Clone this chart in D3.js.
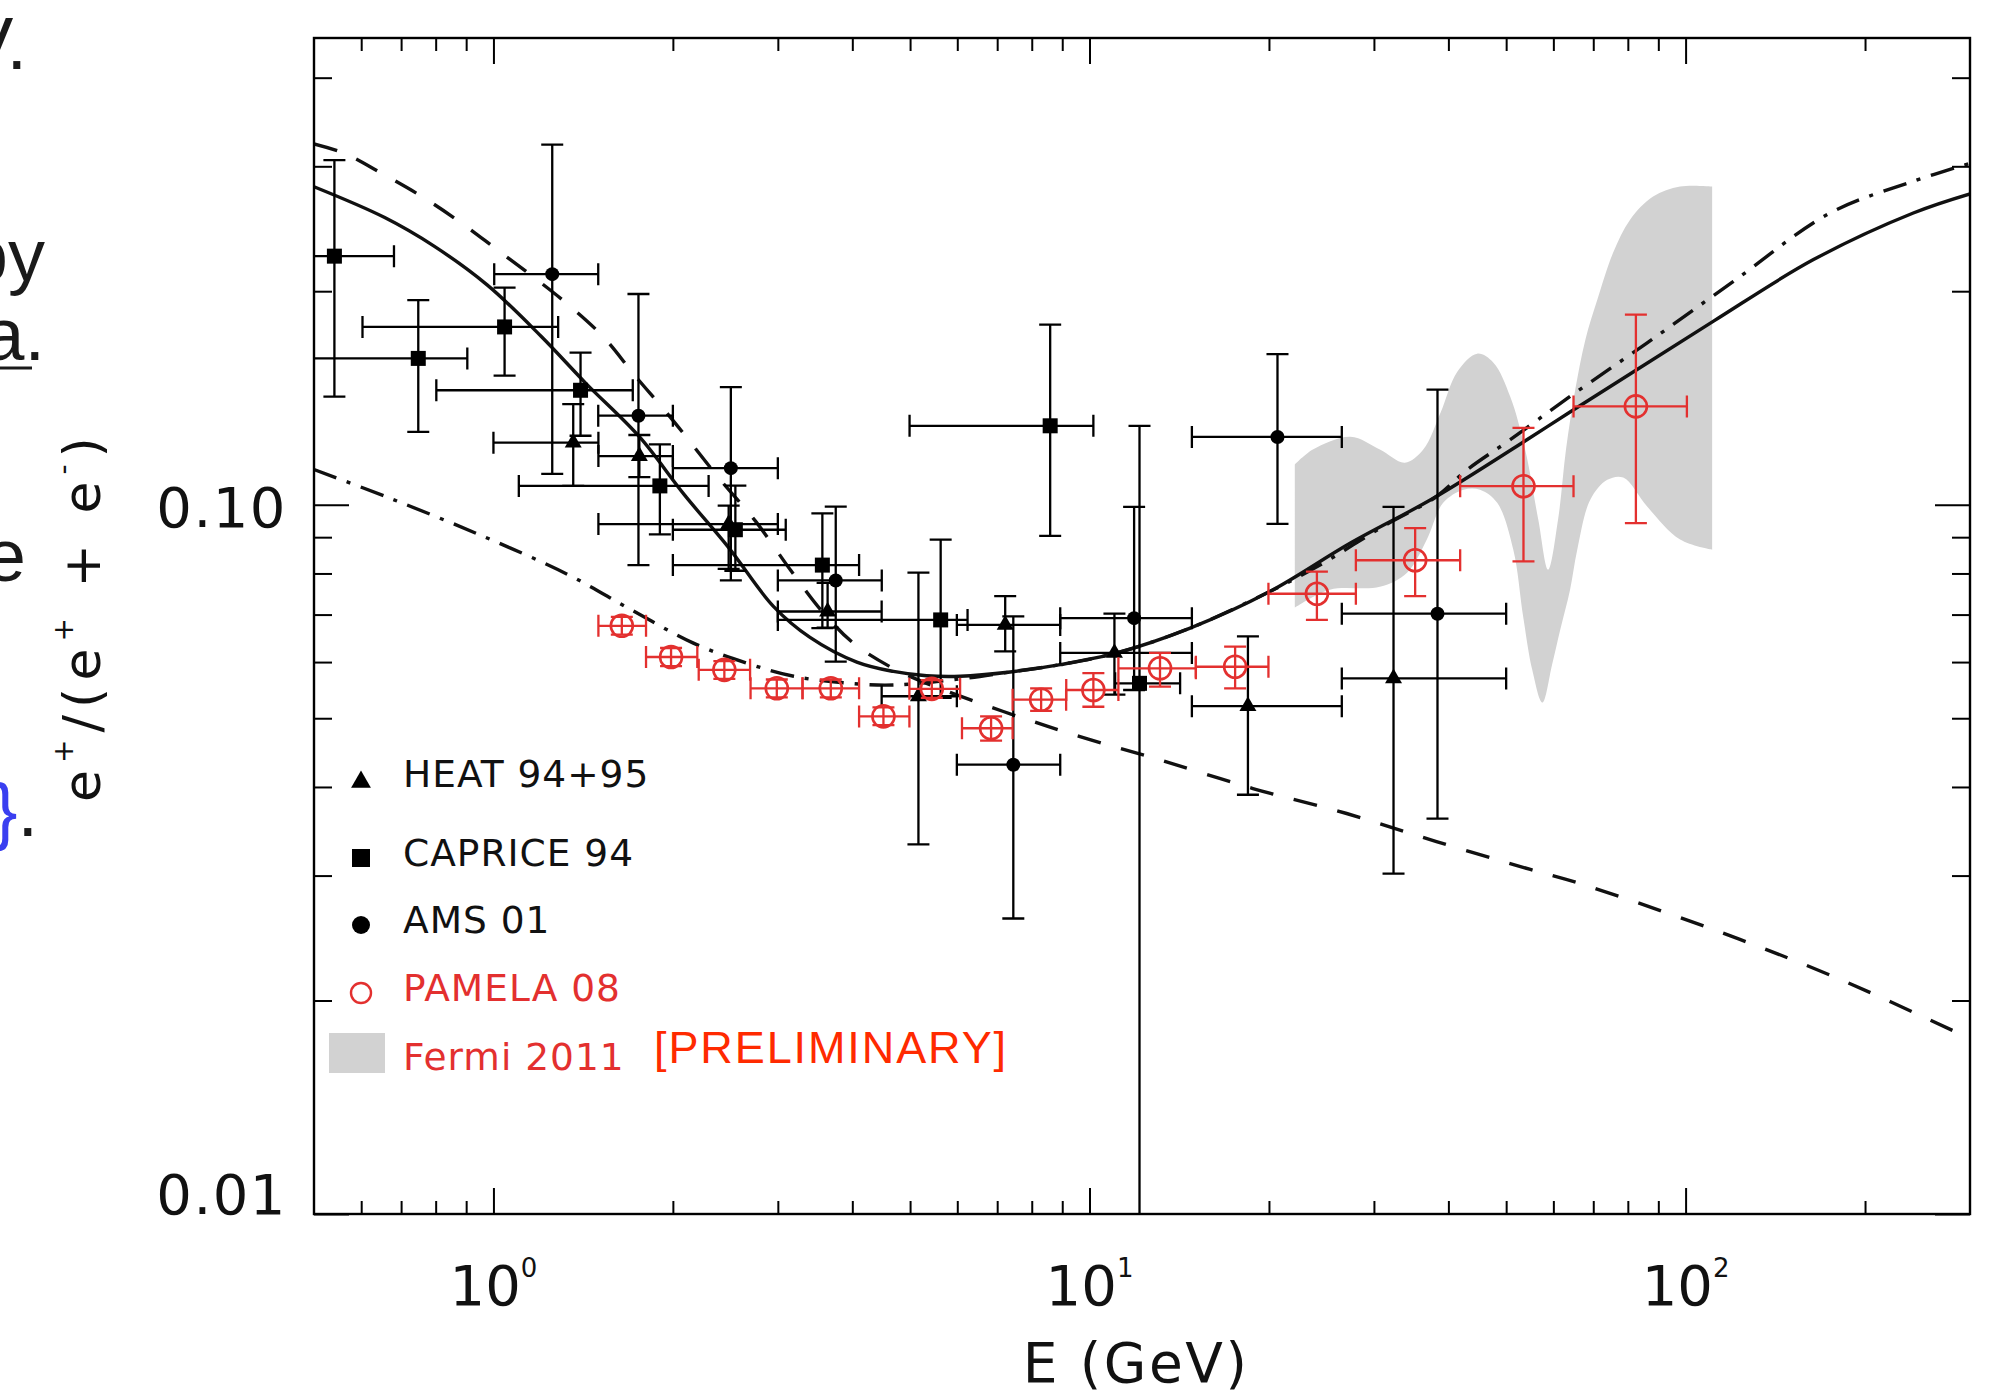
<!DOCTYPE html>
<html>
<head>
<meta charset="utf-8">
<script src="https://cdn.jsdelivr.net/npm/d3@7"></script>
<style>
  html, body { margin: 0; padding: 0; background: #fff; }
  svg { display: block; }
</style>
</head>
<body>
<svg id="chart" width="2006" height="1394"></svg>
<script>
// ---------------------------------------------------------------
// Values (E in GeV, ratio e+/(e+ + e-))
// ---------------------------------------------------------------

// HEAT 94+95 (filled triangles)
var heatE   = [1.361, 1.757, 2.481, 3.636, 5.164, 7.22, 11.01, 18.44, 32.36];
var heatR   = [0.1223, 0.1171, 0.0939, 0.0707, 0.0537, 0.0677, 0.0618, 0.0520, 0.0569];
var heatElo = [1.0, 1.5, 1.5, 3.0, 4.48, 5.99, 8.93, 14.85, 26.5];
var heatEhi = [1.5, 2.0, 3.0, 4.48, 5.99, 8.93, 14.85, 26.5, 50.0];
var heatRlo = [0.1063, 0.1094, 0.0812, 0.0671, 0.0332, 0.0621, 0.0540, 0.0390, 0.0302];
var heatRhi = [0.1386, 0.1254, 0.0997, 0.0776, 0.0802, 0.0743, 0.0702, 0.0652, 0.0993];

// CAPRICE 94 (filled squares)
var capriceE   = [0.541, 0.748, 1.044, 1.40, 1.902, 2.546, 3.563, 5.627, 8.59, 12.13];
var capriceR   = [0.2241, 0.1608, 0.1781, 0.1450, 0.1063, 0.0922, 0.0822, 0.0688, 0.1292, 0.0560];
var capriceElo = [0.45, 0.45, 0.603, 0.802, 1.103, 2.0, 2.0, 3.0, 4.99, 11.04];
var capriceEhi = [0.681, 0.904, 1.284, 1.713, 2.296, 3.093, 4.106, 6.243, 10.15, 14.19];
var capriceRlo = [0.1420, 0.1267, 0.1521, 0.1251, 0.0908, 0.0807, 0.0670, 0.0534, 0.0904, 0.005];
var capriceRhi = [0.3061, 0.1943, 0.2024, 0.1638, 0.1216, 0.1064, 0.0972, 0.0893, 0.1794, 0.1292];

// AMS 01 (filled circles)
var amsE   = [1.255, 1.751, 2.502, 3.752, 7.45, 11.88, 20.67, 38.35];
var amsR   = [0.2114, 0.1335, 0.1126, 0.0782, 0.0430, 0.0692, 0.1246, 0.0702];
var amsElo = [1.003, 1.499, 2.0, 3.0, 5.99, 8.93, 14.85, 26.5];
var amsEhi = [1.499, 2.0, 3.0, 4.482, 8.93, 14.85, 26.5, 50.0];
var amsRlo = [0.1105, 0.0822, 0.0782, 0.0601, 0.0261, 0.0548, 0.0940, 0.0361];
var amsRhi = [0.3218, 0.1982, 0.1465, 0.0994, 0.0696, 0.0993, 0.1631, 0.1453];

// PAMELA 08 (open red circles)
var pamelaE   = [1.642, 1.986, 2.44, 2.988, 3.681, 4.511, 5.438, 6.837, 8.295, 10.15, 13.13, 17.55, 24.07, 35.18, 53.46, 82.53];
var pamelaR   = [0.0675, 0.0610, 0.0585, 0.0551, 0.0551, 0.0503, 0.0550, 0.0484, 0.0531, 0.0548, 0.0588, 0.0591, 0.0749, 0.0835, 0.1062, 0.1376];
var pamelaElo = [1.5, 1.803, 2.21, 2.70, 3.30, 4.106, 4.987, 6.11, 7.43, 9.14, 11.18, 15.08, 19.96, 27.98, 41.86, 64.86];
var pamelaEhi = [1.803, 2.198, 2.695, 3.30, 4.106, 4.987, 6.066, 7.43, 9.136, 11.18, 15.08, 19.96, 27.98, 41.86, 64.86, 100.5];
var pamelaRlo = [0.0656, 0.0592, 0.0568, 0.0535, 0.0535, 0.0489, 0.0534, 0.0465, 0.0512, 0.0519, 0.0554, 0.0551, 0.0688, 0.0743, 0.0832, 0.0942];
var pamelaRhi = [0.0695, 0.0628, 0.0602, 0.0567, 0.0567, 0.0518, 0.0566, 0.0503, 0.0551, 0.0579, 0.0618, 0.0631, 0.0805, 0.0927, 0.1283, 0.1853];

// Fermi 2011 band (preliminary), upper and lower edges
var fermiUpperE = [22.1, 23.7, 27.4, 30.7, 33.8, 36.3, 38.8, 41.4, 44.7, 47.6, 50.8, 53.8, 56.6, 58.8, 61.1, 63.0, 65.3, 67.9, 71.1, 75.6, 80.7, 88.2, 97.9, 110.8];
var fermiUpperR = [0.1139, 0.1196, 0.1247, 0.1196, 0.1146, 0.1196, 0.1348, 0.1540, 0.1633, 0.1586, 0.1420, 0.1196, 0.0953, 0.0810, 0.0953, 0.1196, 0.1453, 0.1709, 0.1945, 0.2267, 0.2523, 0.2719, 0.2809, 0.2809];
var fermiLowerE = [22.1, 25.3, 30.7, 34.1, 36.8, 39.2, 42.4, 45.2, 48.3, 51.4, 53.4, 55.3, 57.5, 59.7, 61.6, 64.0, 65.8, 69.2, 73.9, 78.6, 86.2, 97.9, 110.8];
var fermiLowerR = [0.0716, 0.0759, 0.0766, 0.0802, 0.0893, 0.1006, 0.1050, 0.1050, 0.1006, 0.0864, 0.0695, 0.0585, 0.0526, 0.0595, 0.0666, 0.0759, 0.0864, 0.1016, 0.1084, 0.1092, 0.0994, 0.0893, 0.0864];

// model curves
var solidE = [0.5, 0.657, 0.795, 0.977, 1.202, 1.429, 1.757, 2.088, 2.481, 2.949, 3.397, 4.07, 4.688, 5.33, 6.07, 7.36, 8.93, 11.1, 14.75, 20.1, 27.4, 37.8, 52.1, 64.0, 82.8, 111.4, 163.9, 241, 300];
var solidR = [0.2807, 0.2540, 0.2315, 0.2040, 0.1728, 0.1483, 0.1247, 0.1034, 0.0870, 0.0719, 0.0650, 0.0600, 0.0582, 0.0574, 0.0573, 0.0581, 0.0595, 0.0618, 0.0670, 0.0755, 0.0883, 0.1022, 0.1209, 0.1351, 0.1550, 0.1815, 0.2216, 0.2578, 0.2743];

var dashedE = [0.5, 0.563, 0.646, 0.754, 0.881, 1.011, 1.161, 1.334, 1.531, 1.727, 1.983, 2.396, 2.752, 3.157, 3.577, 4.017, 4.628, 5.33, 6.30, 7.85, 9.64, 13.1, 18.8, 27.0, 38.2, 54.9, 65.9, 108.2, 177.5, 300];
var dashedR = [0.3226, 0.3127, 0.2939, 0.2728, 0.2500, 0.2293, 0.2101, 0.1915, 0.1722, 0.1521, 0.1327, 0.1087, 0.0948, 0.0807, 0.0704, 0.0638, 0.0591, 0.0560, 0.0531, 0.0498, 0.0471, 0.0437, 0.0398, 0.0367, 0.0335, 0.0306, 0.0293, 0.0254, 0.0216, 0.01767];

var dashDotE = [0.5, 0.669, 0.945, 1.334, 1.698, 2.165, 2.66, 3.19, 3.96, 4.68, 6.07, 7.36, 8.93, 11.1, 14.75, 20.1, 24.1, 31.1, 38.2, 43.0, 50.8, 64.0, 86.1, 120.3, 174.8, 241, 300];
var dashDotR = [0.1121, 0.1022, 0.0908, 0.0797, 0.0712, 0.0638, 0.0598, 0.0573, 0.0560, 0.0557, 0.0568, 0.0581, 0.0595, 0.0618, 0.0670, 0.0755, 0.0818, 0.0932, 0.1027, 0.1120, 0.1235, 0.1421, 0.1690, 0.2065, 0.2578, 0.2858, 0.3029];

// ticks and tick labels
var xMajor = [1, 10, 100];
var xMajorExp = ["0", "1", "2"];
var xMinor = [0.6, 0.7, 0.8, 0.9, 2, 3, 4, 5, 6, 7, 8, 9, 20, 30, 40, 50, 60, 70, 80, 90, 200];
var yMajor = [0.01, 0.1];
var yMajorLabels = ["0.01", "0.10"];
var yMinor = [0.02, 0.03, 0.04, 0.05, 0.06, 0.07, 0.08, 0.09, 0.2, 0.3, 0.4];

var legendLabels = ["HEAT 94+95", "CAPRICE 94", "AMS 01", "PAMELA 08", "Fermi 2011"];

// ---------------------------------------------------------------

var RED = "#e3302f";
var FONT = "'DejaVu Sans', sans-serif";

var svg = d3.select("#chart");
var plot = { left: 314, right: 1970, top: 38, bottom: 1214 };

var x = d3.scaleLog().domain([0.5, 300]).range([plot.left, plot.right]);
var y = d3.scaleLog().domain([0.01, 0.455]).range([plot.bottom, plot.top]);

svg.append("rect").attr("width", 2006).attr("height", 1394).attr("fill", "#fff");

svg.append("defs").append("clipPath").attr("id", "frameClip")
    .append("rect")
    .attr("x", plot.left).attr("y", plot.top)
    .attr("width", plot.right - plot.left)
    .attr("height", plot.bottom - plot.top);

var inner = svg.append("g").attr("clip-path", "url(#frameClip)");

// Fermi band: upper edge forward, lower edge back
var smoothLine = d3.line()
    .x(function(d) { return x(d[0]); })
    .y(function(d) { return y(d[1]); })
    .curve(d3.curveCatmullRom.alpha(0.5));

var upperPts = d3.zip(fermiUpperE, fermiUpperR);
var lowerPts = d3.zip(fermiLowerE, fermiLowerR).reverse();
inner.append("path")
    .attr("d", smoothLine(upperPts) + "L" + smoothLine(lowerPts).slice(1) + "Z")
    .attr("fill", "#d2d2d2")
    .attr("stroke", "none");

// model curves
function drawCurve(E, R, dash) {
    inner.append("path")
        .attr("d", smoothLine(d3.zip(E, R)))
        .attr("fill", "none")
        .attr("stroke", "#111")
        .attr("stroke-width", 3.4)
        .attr("stroke-dasharray", dash);
}
drawCurve(dashedE, dashedR, "24,21");
drawCurve(dashDotE, dashDotR, "24,11,4,11");
drawCurve(solidE, solidR, null);

// data points with error bars
function drawSet(E, R, Elo, Ehi, Rlo, Rhi, color, marker) {
    var g = inner.append("g")
        .attr("stroke", color)
        .attr("stroke-width", 2.3)
        .attr("fill", "none");
    var cap = 11;
    E.forEach(function(e, i) {
        var cx = x(e), cy = y(R[i]);
        var x0 = x(Elo[i]), x1 = x(Ehi[i]);
        var y0 = y(Rlo[i]), y1 = y(Rhi[i]);
        var path = "M" + x0 + "," + cy + "H" + x1 +
            "M" + x0 + "," + (cy - cap) + "V" + (cy + cap) +
            "M" + x1 + "," + (cy - cap) + "V" + (cy + cap) +
            "M" + cx + "," + y0 + "V" + y1 +
            "M" + (cx - cap) + "," + y0 + "H" + (cx + cap) +
            "M" + (cx - cap) + "," + y1 + "H" + (cx + cap);
        g.append("path").attr("d", path);
        marker(g, cx, cy);
    });
}

function triangle(size) {
    return function(g, cx, cy) {
        g.append("path")
            .attr("d", d3.symbol().type(d3.symbolTriangle).size(size)())
            .attr("transform", "translate(" + cx + "," + cy + ")")
            .attr("fill", "#000").attr("stroke", "none");
    };
}
function square(side) {
    return function(g, cx, cy) {
        g.append("rect")
            .attr("x", cx - side / 2).attr("y", cy - side / 2)
            .attr("width", side).attr("height", side)
            .attr("fill", "#000").attr("stroke", "none");
    };
}
function dot(r) {
    return function(g, cx, cy) {
        g.append("circle").attr("cx", cx).attr("cy", cy).attr("r", r)
            .attr("fill", "#000").attr("stroke", "none");
    };
}
function ring(r) {
    return function(g, cx, cy) {
        g.append("circle").attr("cx", cx).attr("cy", cy).attr("r", r)
            .attr("fill", "none").attr("stroke", RED).attr("stroke-width", 2.6);
    };
}

drawSet(heatE, heatR, heatElo, heatEhi, heatRlo, heatRhi, "#000", triangle(125));
drawSet(capriceE, capriceR, capriceElo, capriceEhi, capriceRlo, capriceRhi, "#000", square(15));
drawSet(amsE, amsR, amsElo, amsEhi, amsRlo, amsRhi, "#000", dot(7));
drawSet(pamelaE, pamelaR, pamelaElo, pamelaEhi, pamelaRlo, pamelaRhi, RED, ring(11));

// ticks on all four sides, pointing inwards
function ticks(axis, translate, values, size) {
    var g = svg.append("g")
        .attr("transform", "translate(" + translate + ")")
        .call(axis.tickValues(values).tickSize(size).tickFormat(""));
    g.select(".domain").remove();
    g.selectAll(".tick line").attr("stroke", "#000").attr("stroke-width", 2);
}
ticks(d3.axisBottom(x), "0," + plot.bottom, xMinor, -13);
ticks(d3.axisBottom(x), "0," + plot.bottom, xMajor, -26);
ticks(d3.axisTop(x), "0," + plot.top, xMinor, -13);
ticks(d3.axisTop(x), "0," + plot.top, xMajor, -26);
ticks(d3.axisLeft(y), plot.left + ",0", yMinor, -18);
ticks(d3.axisLeft(y), plot.left + ",0", yMajor, -35);
ticks(d3.axisRight(y), plot.right + ",0", yMinor, -18);
ticks(d3.axisRight(y), plot.right + ",0", yMajor, -35);

// frame
svg.append("rect")
    .attr("x", plot.left).attr("y", plot.top)
    .attr("width", plot.right - plot.left)
    .attr("height", plot.bottom - plot.top)
    .attr("fill", "none").attr("stroke", "#000").attr("stroke-width", 2.4);

// x tick labels 10^n
xMajor.forEach(function(v, i) {
    var t = svg.append("text")
        .attr("x", x(v)).attr("y", 1305)
        .attr("text-anchor", "middle")
        .attr("font-family", FONT).attr("font-size", 56)
        .attr("fill", "#111");
    t.append("tspan").text("10");
    t.append("tspan").attr("dy", -28).attr("font-size", 26).text(xMajorExp[i]);
});

// y tick labels
yMajor.forEach(function(v, i) {
    svg.append("text")
        .attr("x", 287)
        .attr("y", i === 0 ? y(v) : y(v) + 22)
        .attr("text-anchor", "end")
        .attr("font-family", FONT).attr("font-size", 56)
        .attr("letter-spacing", 1.5)
        .attr("fill", "#111")
        .text(yMajorLabels[i]);
});

// axis titles
svg.append("text")
    .attr("x", 1136).attr("y", 1382)
    .attr("text-anchor", "middle")
    .attr("font-family", FONT).attr("font-size", 55)
    .attr("letter-spacing", 2.5)
    .attr("fill", "#111")
    .text("E (GeV)");

var yTitle = svg.append("text")
    .attr("transform", "translate(100,616) rotate(-90)")
    .attr("text-anchor", "middle")
    .attr("font-family", FONT).attr("font-size", 52)
    .attr("letter-spacing", 7)
    .attr("fill", "#111");
yTitle.append("tspan").text("e");
yTitle.append("tspan").attr("dy", -27).attr("font-size", 28).text("+");
yTitle.append("tspan").attr("dy", 27).text("/(e");
yTitle.append("tspan").attr("dy", -27).attr("font-size", 28).text("+");
yTitle.append("tspan").attr("dy", 27).text(" + e");
yTitle.append("tspan").attr("dy", -27).attr("font-size", 28).text("-");
yTitle.append("tspan").attr("dy", 27).text(")");

// legend
var legendY = [787, 866, 933, 1001, 1070];
var legendColor = ["#111", "#111", "#111", RED, RED];
var lg = svg.append("g");
triangle(170)(lg, 361, 782);
square(18)(lg, 361, 858);
dot(9)(lg, 361, 925);
lg.append("circle").attr("cx", 361).attr("cy", 993).attr("r", 10)
    .attr("fill", "none").attr("stroke", RED).attr("stroke-width", 2.4);
lg.append("rect").attr("x", 329).attr("y", 1033).attr("width", 56).attr("height", 40)
    .attr("fill", "#d2d2d2");
legendLabels.forEach(function(label, i) {
    lg.append("text")
        .attr("x", 403).attr("y", legendY[i])
        .attr("font-family", FONT).attr("font-size", 37.5)
        .attr("letter-spacing", 1)
        .attr("fill", legendColor[i])
        .text(label);
});
lg.append("text")
    .attr("x", 654).attr("y", 1063)
    .attr("font-family", "'Liberation Sans', Arial, sans-serif").attr("font-size", 45)
    .attr("letter-spacing", 1.9)
    .attr("fill", "#ff2a00")
    .text("[PRELIMINARY]");

// slide text cut off at the left edge
var SLIDE = "'Liberation Sans', Arial, sans-serif";
function slideText(str, xEnd, base) {
    return svg.append("text")
        .attr("x", xEnd).attr("y", base)
        .attr("text-anchor", "end")
        .attr("font-family", SLIDE).attr("font-size", 74)
        .attr("fill", "#1a1a1a")
        .text(str);
}
slideText("V.", 27, 69);
slideText("by", 45, 281);
slideText("a.", 45, 360);
svg.append("line").attr("x1", 0).attr("x2", 32).attr("y1", 368).attr("y2", 368)
    .attr("stroke", "#1a1a1a").attr("stroke-width", 3);
slideText("e", 26, 581);
var brace = svg.append("text")
    .attr("x", 38).attr("y", 836)
    .attr("text-anchor", "end")
    .attr("font-family", SLIDE).attr("font-size", 74);
brace.append("tspan").attr("fill", "#3a3ff0").text("}");
brace.append("tspan").attr("fill", "#1a1a1a").text(".");
</script>
</body>
</html>
